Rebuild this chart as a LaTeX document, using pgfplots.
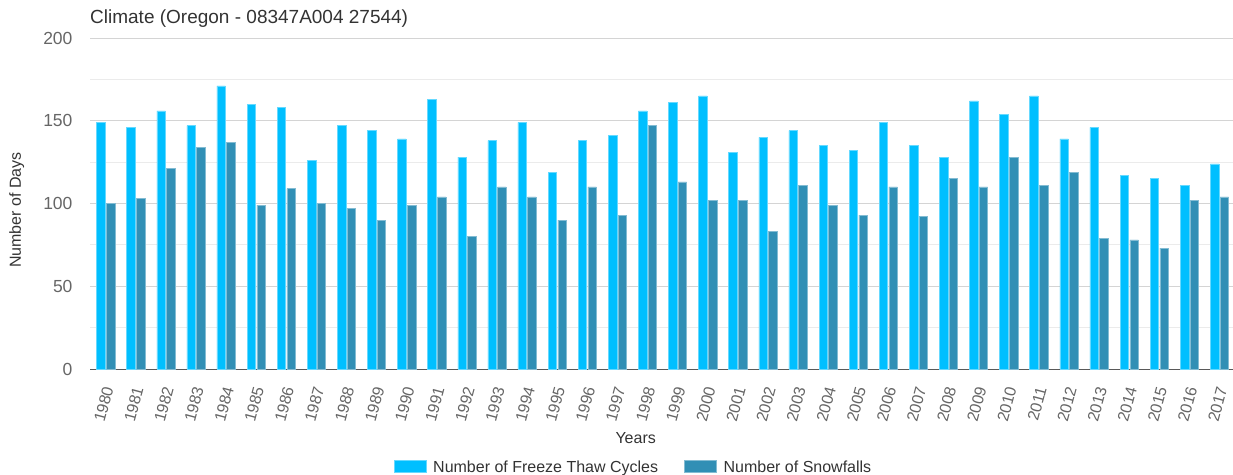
\documentclass[border=0pt]{standalone}
\usepackage{pgfplots}
\pgfplotsset{compat=1.18}
\usepackage{fontspec}
\setmainfont{Liberation Sans}
\definecolor{freeze}{HTML}{00BFFF}
\definecolor{snow}{HTML}{318FB5}
\definecolor{txt}{HTML}{333333}
\definecolor{ticktxt}{HTML}{666666}
\pgfplotstableread{
x freeze snow
0 149 100
1 146 103
2 156 121
3 147 134
4 171 137
5 160 99
6 158 109
7 126 100
8 147 97
9 144 90
10 139 99
11 163 104
12 128 80
13 138 110
14 149 104
15 119 90
16 138 110
17 141 93
18 156 147
19 161 113
20 165 102
21 131 102
22 140 83
23 144 111
24 135 99
25 132 93
26 149 110
27 135 92
28 128 115
29 162 110
30 154 128
31 165 111
32 139 119
33 146 79
34 117 78
35 115 73
36 111 102
37 124 104
}\datatable
\begin{document}
\begin{tikzpicture}[x=1pt,y=1pt]
\useasboundingbox (0,0) rectangle (1233,474);
\node[anchor=west,text=txt,font=\fontsize{19}{20}\selectfont,inner sep=0pt] at (90,455) {Climate (Oregon - 08347A004 27544)};
\begin{axis}[
  at={(90pt,105pt)}, anchor=south west,
  width=1143pt, height=331pt, scale only axis,
  xmin=-0.52, xmax=37.45, ymin=0, ymax=200,
  ybar=1.2pt, bar width=8.5pt,
  axis lines=left,
  y axis line style={draw=none},
  x axis line style={draw=black!65, line width=0.9pt, -},
  major tick length=0pt, minor tick length=0pt,
  ytick={0,50,100,150,200},
  minor ytick={25,75,125,175},
  ymajorgrids, yminorgrids,
  major grid style={color=black!17, line width=0.8pt},
  minor grid style={color=black!8, line width=0.8pt},
  xtick={0,...,37},
  xticklabels={1980,1981,1982,1983,1984,1985,1986,1987,1988,1989,1990,1991,1992,1993,1994,1995,1996,1997,1998,1999,2000,2001,2002,2003,2004,2005,2006,2007,2008,2009,2010,2011,2012,2013,2014,2015,2016,2017},
  x tick label style={yshift=-17pt, xshift=3pt, rotate=75, anchor=east, text=ticktxt, font=\fontsize{16}{16}\selectfont, inner sep=1pt},
  y tick label style={text=ticktxt, font=\fontsize{17.5}{17}\selectfont, xshift=-14pt},
  /pgf/number format/assume math mode=true,
  xlabel={Years},
  xlabel style={at={(axis description cs:0.4774,-0.2085)}, anchor=center, text=txt, font=\fontsize{16}{16}\selectfont},
  ylabel={Number of Days},
  ylabel style={at={(axis description cs:-0.064,0.48)}, anchor=center, rotate=0, text=txt, font=\fontsize{16}{16}\selectfont},
  legend columns=2,
  legend style={at={(axis description cs:0.4755,-0.297)}, anchor=center, draw=none, fill=none, text=txt, font=\fontsize{16}{16}\selectfont,
    /tikz/every odd column/.append style={column sep=5pt},
    /tikz/every even column/.append style={column sep=24pt}},
  legend image code/.code={\fill[#1] (0pt,-5pt) rectangle (32pt,7pt);},
]
\addplot[fill=freeze, draw=freeze!60!white, line width=0.5pt] table[x=x,y=freeze] {\datatable};
\addplot[fill=snow, draw=snow!60!white, line width=0.5pt] table[x=x,y=snow] {\datatable};
\legend{Number of Freeze Thaw Cycles, Number of Snowfalls}
\end{axis}
\end{tikzpicture}
\end{document}
